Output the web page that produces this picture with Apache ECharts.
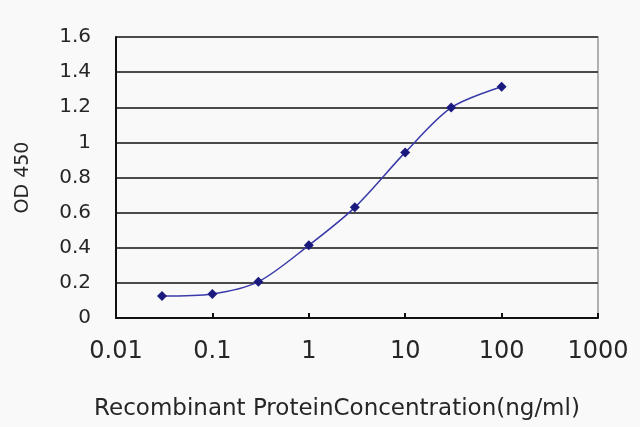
<!DOCTYPE html>
<html>
<head>
<meta charset="utf-8">
<script src="https://cdn.jsdelivr.net/npm/echarts@6/dist/echarts.min.js"></script>
<style>
html,body{margin:0;padding:0;background:#f9f9f9;}
#c{width:640px;height:427px;}
</style>
</head>
<body>
<div id="c"></div>
<script>
const concentrations = [0.03, 0.1, 0.3, 1, 3, 10, 30, 100];
const od450 = [0.125, 0.137, 0.207, 0.414, 0.63, 0.943, 1.198, 1.317];
const yTicks = [0, 0.2, 0.4, 0.6, 0.8, 1, 1.2, 1.4, 1.6];
const xTicks = [0.01, 0.1, 1, 10, 100, 1000];

const chart = echarts.init(document.getElementById('c'));
chart.setOption({
  backgroundColor: '#f9f9f9',
  animation: false,
  grid: {left: 116, right: 42, top: 37, bottom: 109, show: true, borderColor: '#999', borderWidth: 1.5, backgroundColor: 'transparent'},
  xAxis: {
    type: 'log', logBase: 10, min: xTicks[0], max: xTicks[xTicks.length-1],
    name: 'Recombinant ProteinConcentration(ng/ml)',
    nameLocation: 'middle', nameGap: 80,
    nameTextStyle: {fontFamily: 'DejaVu Sans', fontSize: 23, color: '#262626', padding: [0, 40, 0, 0]},
    axisLine: {lineStyle: {color: '#111', width: 2}},
    axisTick: {show: true, inside: true, length: 5, lineStyle: {color: '#111', width: 2}},
    axisLabel: {fontFamily: 'DejaVu Sans', fontSize: 24, color: '#262626', margin: 22,
      formatter: v => String(v)},
    splitLine: {show: false}
  },
  yAxis: {
    type: 'value', min: yTicks[0], max: yTicks[yTicks.length-1], interval: 0.2,
    name: 'OD 450', nameLocation: 'middle', nameGap: 83, nameRotate: 90,
    nameTextStyle: {fontFamily: 'DejaVu Sans', fontSize: 19, color: '#262626'},
    axisLine: {show: true, lineStyle: {color: '#111', width: 2}},
    axisTick: {show: false},
    axisLabel: {fontFamily: 'DejaVu Sans', fontSize: 20, color: '#262626', margin: 25,
      formatter: v => String(Math.round(v*10)/10)},
    splitLine: {show: true, lineStyle: {color: '#4a4a4a', width: 2}}
  },
  series: [{
    type: 'line',
    data: concentrations.map((c, i) => [c, od450[i]]),
    smooth: 0.3,
    symbol: 'diamond', symbolSize: 10,
    itemStyle: {color: '#1a1a7e'},
    lineStyle: {color: '#3a3aaa', width: 1.5}
  }]
});
</script>
</body>
</html>
